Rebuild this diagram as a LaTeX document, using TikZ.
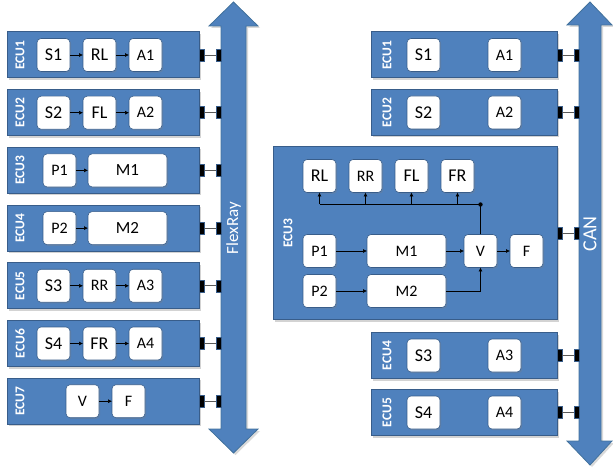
\documentclass[tikz,border=0pt]{standalone}
\usepackage{fontspec}
\setmainfont{Carlito}
\usetikzlibrary{arrows.meta,positioning,shadows}
\definecolor{ecublue}{HTML}{4F81BD}
\definecolor{ecuedge}{HTML}{385D8A}
\definecolor{busedge}{HTML}{41719C}

\begin{document}
\begin{tikzpicture}[
  x=1pt, y=-1pt,
  node distance=13pt,
  ecu/.style={draw=ecuedge, fill=ecublue, line width=1pt, minimum width=#1, minimum height=46pt,
              inner sep=0pt, outer sep=0pt,
              drop shadow={shadow xshift=2pt, shadow yshift=-2pt, opacity=0.35}},
  ecu/.default=192pt,
  fn/.style={draw=ecuedge, line width=0.6pt, fill=white, rounded corners=4pt, minimum width=#1,
             minimum height=33pt, inner sep=0pt, outer sep=0pt, font=\fontsize{18}{18}\selectfont,
             drop shadow={shadow xshift=1.2pt, shadow yshift=-1.2pt, opacity=0.3}},
  fn/.default=33pt,
  sm/.style={font=\fontsize{16}{16}\selectfont},
  tag/.style={text=white, font=\bfseries\fontsize{13.5}{13.5}\selectfont, rotate=90},
  ar/.style={-{Latex[length=4pt,width=4pt]}, line width=0.6pt},
  port/.style={draw=ecuedge, line width=0.4pt, fill=black, minimum width=5pt, minimum height=12pt,
               inner sep=0pt, outer sep=0pt},
  wire/.style={black!65, line width=0.8pt},
  bus/.style={fill=ecublue, draw=busedge, line width=0.8pt,
              drop shadow={shadow xshift=2pt, shadow yshift=-2pt, opacity=0.3}},
  buslbl/.style={text=white, rotate=90, font=\fontsize{17}{17}\selectfont},
]
\useasboundingbox (0,0) rectangle (613,470);

% FlexRay bus
\draw[bus] (221,26) -- (209,26) -- (233.5,2) -- (258,26) -- (246,26) -- (246,429)
  -- (258,429) -- (233.5,453) -- (209,429) -- (221,429) -- cycle;
\node[buslbl] (flexray) at (233.5,228) {FlexRay};

% CAN bus
\draw[bus] (579,25) -- (567,25) -- (590,2) -- (612,25) -- (601,25) -- (601,441)
  -- (612,441) -- (590,465) -- (567,441) -- (579,441) -- cycle;
\node[buslbl, font=\fontsize{20}{20}\selectfont] (can) at (590,234) {CAN};

% FlexRay column
\node[ecu] (l1) at (103,55) {};
\node[ecu, below=11.7pt of l1] (l2) {};
\node[ecu, below=11.7pt of l2] (l3) {};
\node[ecu, below=11.7pt of l3] (l4) {};
\node[ecu, below=11.7pt of l4] (l5) {};
\node[ecu, below=11.7pt of l5] (l6) {};
\node[ecu, below=11.7pt of l6] (l7) {};
\node[tag] (l1t) at ([xshift=13pt]l1.west) {ECU1};
\node[tag] (l2t) at ([xshift=13pt]l2.west) {ECU2};
\node[tag] (l3t) at ([xshift=13pt]l3.west) {ECU3};
\node[tag] (l4t) at ([xshift=13pt]l4.west) {ECU4};
\node[tag] (l5t) at ([xshift=13pt]l5.west) {ECU5};
\node[tag] (l6t) at ([xshift=13pt]l6.west) {ECU6};
\node[tag] (l7t) at ([xshift=13pt]l7.west) {ECU7};

\node[fn, right=30pt of l1.west] (l1s) {S1};
\node[fn, right=of l1s] (l1r) {RL};
\node[fn, sm, right=of l1r] (l1a) {A1};
\draw[ar] (l1s) -- (l1r);
\draw[ar] (l1r) -- (l1a);

\node[fn, right=30pt of l2.west] (l2s) {S2};
\node[fn, right=of l2s] (l2r) {FL};
\node[fn, sm, right=of l2r] (l2a) {A2};
\draw[ar] (l2s) -- (l2r);
\draw[ar] (l2r) -- (l2a);

\node[fn, sm, right=36pt of l3.west] (l3p) {P1};
\node[fn=79pt, font=\fontsize{17}{17}\selectfont, right=12pt of l3p] (l3m) {M1};
\draw[ar] (l3p) -- (l3m);

\node[fn, sm, right=36pt of l4.west] (l4p) {P2};
\node[fn=79pt, font=\fontsize{17}{17}\selectfont, right=12pt of l4p] (l4m) {M2};
\draw[ar] (l4p) -- (l4m);

\node[fn, right=30pt of l5.west] (l5s) {S3};
\node[fn, sm, right=of l5s] (l5r) {RR};
\node[fn, sm, right=of l5r] (l5a) {A3};
\draw[ar] (l5s) -- (l5r);
\draw[ar] (l5r) -- (l5a);

\node[fn, right=30pt of l6.west] (l6s) {S4};
\node[fn, right=of l6s] (l6r) {FR};
\node[fn, sm, right=of l6r] (l6a) {A4};
\draw[ar] (l6s) -- (l6r);
\draw[ar] (l6r) -- (l6a);

\node[fn, sm, right=59pt of l7.west] (l7v) {V};
\node[fn, sm, right=of l7v] (l7f) {F};
\draw[ar] (l7v) -- (l7f);

% FlexRay ports
\node[port, right=0pt of l1] (l1o) {};
\node[port, right=12pt of l1o] (l1b) {};
\node[port, right=0pt of l2] (l2o) {};
\node[port, right=12pt of l2o] (l2b) {};
\node[port, right=0pt of l3] (l3o) {};
\node[port, right=12pt of l3o] (l3b) {};
\node[port, right=0pt of l4] (l4o) {};
\node[port, right=12pt of l4o] (l4b) {};
\node[port, right=0pt of l5] (l5o) {};
\node[port, right=12pt of l5o] (l5b) {};
\node[port, right=0pt of l6] (l6o) {};
\node[port, right=12pt of l6o] (l6b) {};
\node[port, right=0pt of l7] (l7o) {};
\node[port, right=12pt of l7o] (l7b) {};
\draw[wire] (l1o) -- (l1b);
\draw[wire] (l2o) -- (l2b);
\draw[wire] (l3o) -- (l3b);
\draw[wire] (l4o) -- (l4b);
\draw[wire] (l5o) -- (l5b);
\draw[wire] (l6o) -- (l6b);
\draw[wire] (l7o) -- (l7b);

% CAN column
\node[ecu=186pt] (r1) at (464,55) {};
\node[ecu=186pt, below=11.5pt of r1] (r2) {};
\node[ecu=284pt, minimum height=173pt, below left=11pt and 0pt of r2.south east] (r3) {};
\node[ecu=186pt, below left=13pt and 0pt of r3.south east] (r4) {};
\node[ecu=186pt, below=11pt of r4] (r5) {};
\node[tag] (r1t) at ([xshift=16pt]r1.west) {ECU1};
\node[tag] (r2t) at ([xshift=16pt]r2.west) {ECU2};
\node[tag] (r3t) at ([xshift=15pt]r3.west) {ECU3};
\node[tag] (r4t) at ([xshift=16pt]r4.west) {ECU4};
\node[tag] (r5t) at ([xshift=16pt]r5.west) {ECU5};

\node[fn, right=36pt of r1.west] (r1s) {S1};
\node[fn, sm, right=48pt of r1s] (r1a) {A1};
\node[fn, right=36pt of r2.west] (r2s) {S2};
\node[fn, sm, right=48pt of r2s] (r2a) {A2};
\node[fn, right=36pt of r4.west] (r4s) {S3};
\node[fn, sm, right=48pt of r4s] (r4a) {A3};
\node[fn, right=36pt of r5.west] (r5s) {S4};
\node[fn, sm, right=48pt of r5s] (r5a) {A4};

% Merged ECU3
\node[fn, below right=13pt and 30pt of r3.north west] (rl) {RL};
\node[fn, sm, right=of rl] (rr) {RR};
\node[fn, right=of rr] (fl) {FL};
\node[fn, right=of fl] (fr) {FR};
\node[fn, sm, below=42pt of rl] (p1) {P1};
\node[fn, sm, below=7pt of p1] (p2) {P2};
\node[fn=79pt, sm, right=31pt of p1] (m1) {M1};
\node[fn=79pt, sm, right=31pt of p2] (m2) {M2};
\node[fn, sm, right=18pt of m1] (v) {V};
\node[fn, sm, right=of v] (f) {F};
\coordinate[above=30pt of v.north] (jn);
\draw[ar] (p1) -- (m1);
\draw[ar] (m1) -- (v);
\draw[ar] (v) -- (f);
\draw[ar] (p2) -- (m2);
\draw[ar] (m2) -| (v);
\draw[line width=0.6pt] (v) -- (jn) -- (jn -| rl);
\fill (jn) circle (2.2pt);
\draw[ar] (jn -| rl) -- (rl);
\draw[ar] (jn -| rr) -- (rr);
\draw[ar] (jn -| fl) -- (fl);
\draw[ar] (jn -| fr) -- (fr);

% CAN ports
\node[port, right=0pt of r1] (r1o) {};
\node[port, right=12pt of r1o] (r1b) {};
\node[port, right=0pt of r2] (r2o) {};
\node[port, right=12pt of r2o] (r2b) {};
\node[port, right=0pt of r3] (r3o) {};
\node[port, right=12pt of r3o] (r3b) {};
\node[port, right=0pt of r4] (r4o) {};
\node[port, right=12pt of r4o] (r4b) {};
\node[port, right=0pt of r5] (r5o) {};
\node[port, right=12pt of r5o] (r5b) {};
\draw[wire] (r1o) -- (r1b);
\draw[wire] (r2o) -- (r2b);
\draw[wire] (r3o) -- (r3b);
\draw[wire] (r4o) -- (r4b);
\draw[wire] (r5o) -- (r5b);
\end{tikzpicture}
\end{document}
